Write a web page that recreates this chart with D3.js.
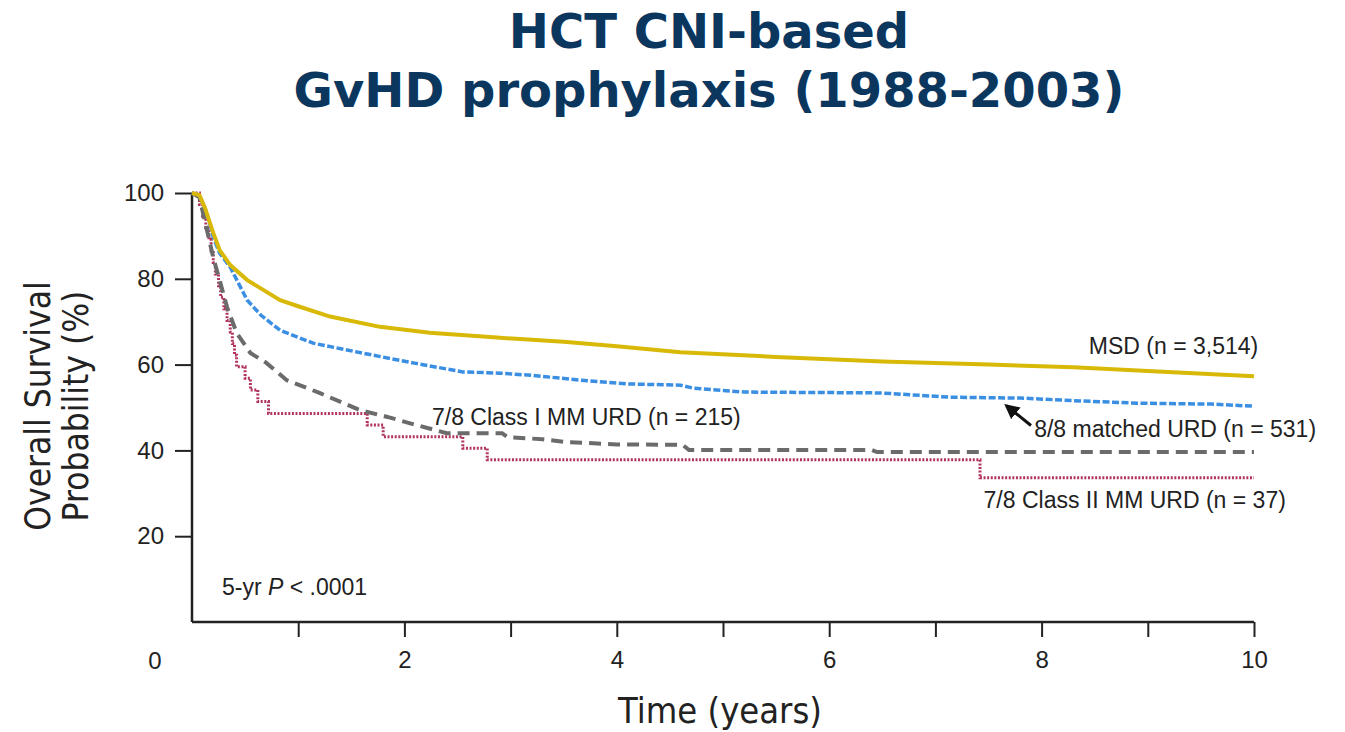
<!DOCTYPE html>
<html>
<head>
<meta charset="utf-8">
<script src="https://cdnjs.cloudflare.com/ajax/libs/d3/7.8.5/d3.min.js"></script>
<style>
  body { margin: 0; background: #fff; }
  svg { display: block; }
  .tick text { font-family: "Liberation Sans", Arial, sans-serif; font-size: 24px; fill: #222; }
  .note { font-family: "Liberation Sans", Arial, sans-serif; font-size: 23px; fill: #222; }
</style>
</head>
<body>
<script>
// KM overall survival, CNI-based GvHD prophylaxis
var msd = [[0,100],[0.07,99.5],[0.12,96.7],[0.2,90.7],[0.26,86.7],[0.36,83.2],[0.52,79.7],[0.83,75],
  [1.0,73.6],[1.3,71.2],[1.77,68.8],[2.24,67.4],[2.87,66.3],[3.5,65.3],[4,64.3],[4.6,62.9],
  [5.5,61.8],[6.5,60.7],[7.5,60.0],[8.3,59.4],[9,58.5],[10,57.3]];

var matched = [[0,100],[0.07,99.5],[0.14,95.3],[0.2,89.7],[0.26,86],[0.36,82.7],[0.52,75],[0.65,71.5],
  [0.83,68],[1.14,65],[1.6,62.7],[2.08,60.4],[2.55,58.3],[2.9,58],[3.2,57.5],[3.65,56.4],[4.1,55.5],
  [4.6,55.2],[4.72,54.5],[5.2,53.6],[6.48,53.4],[7.14,52.4],[7.8,52.2],[8.3,51.6],[8.9,51],[9.6,50.8],[10,50.3]];

var classI = [[0,100],[0.07,99],[0.14,91.4],[0.2,85],[0.26,79.7],[0.33,73.4],[0.42,67.4],[0.55,62.7],
  [0.7,60.4],[0.89,56.4],[1.2,53.4],[1.58,49.4],[1.84,47.8],[2.1,46],[2.4,44],[2.92,44],[2.97,43.1],
  [3.3,42.6],[3.5,42],[4.0,41.4],[4.62,41.3],[4.68,40.1],[6.4,40.1],[6.45,39.6],[10,39.6]];

var classII = [[0,100],[0.07,97.3],[0.1,94.6],[0.13,91.9],[0.16,89.2],[0.18,86.5],[0.2,83.8],[0.22,81.1],
  [0.25,78.4],[0.27,75.7],[0.3,73],[0.33,70.3],[0.36,67.6],[0.38,64.9],[0.4,62.2],[0.42,59.5],
  [0.5,56.8],[0.55,54.1],[0.62,51.4],[0.72,48.6],[1.65,45.9],[1.8,43.2],[2.55,40.5],[2.78,37.8],
  [7.42,33.6],[10,33.6]];

var yTicks = [20, 40, 60, 80, 100];
var xTicks = [1, 2, 3, 4, 5, 6, 7, 8, 9, 10];
var titleLines = ["HCT CNI-based", "GvHD prophylaxis (1988-2003)"];

var width = 1345, height = 732;
var svg = d3.select("body").append("svg")
    .attr("width", width)
    .attr("height", height);

var x = d3.scaleLinear().domain([0, 10]).range([192, 1254]);
var y = d3.scaleLinear().domain([0, 100]).range([622, 193]);

// title
svg.selectAll("text.title")
  .data(titleLines)
  .enter().append("text")
    .attr("class", "title")
    .attr("x", 709)
    .attr("y", function(d, i) { return 48 + i * 59; })
    .attr("text-anchor", "middle")
    .style("font-family", "'DejaVu Sans', Verdana, sans-serif")
    .style("font-weight", "bold")
    .style("font-size", "48px")
    .style("fill", "#0b375f")
    .text(function(d) { return d; });

// axes
var yAxis = d3.axisLeft(y).tickValues(yTicks).tickSize(17).tickPadding(11);
var gy = svg.append("g").attr("transform", "translate(192,0)").call(yAxis);

var xAxis = d3.axisBottom(x).tickValues(xTicks).tickSize(15).tickPadding(14)
  .tickFormat(function(d) { return d % 2 === 0 ? d : ""; });
var gx = svg.append("g").attr("transform", "translate(0,622)").call(xAxis);

[gx, gy].forEach(function(g) {
  g.select(".domain").attr("stroke", "#222").attr("stroke-width", 2.5);
  g.selectAll(".tick line").attr("stroke", "#222").attr("stroke-width", 2);
});
gy.select(".domain").attr("d", "M0," + y(100) + "V" + y(0));
gx.select(".domain").attr("d", "M" + x(0) + ",0H" + x(10));

svg.append("text")
  .attr("x", 155).attr("y", 669)
  .attr("text-anchor", "middle")
  .style("font-family", "'Liberation Sans', Arial, sans-serif")
  .style("font-size", "24px").style("fill", "#222")
  .text("0");

// axis titles
svg.append("text")
  .attr("x", 720).attr("y", 723)
  .attr("text-anchor", "middle")
  .style("font-family", "'Liberation Sans Narrow', 'DejaVu Sans Condensed', sans-serif")
  .style("font-size", "36px").style("fill", "#222")
  .text("Time (years)");

var ylab = svg.append("text")
  .attr("transform", "translate(0,406) rotate(-90)")
  .attr("text-anchor", "middle")
  .style("font-family", "'Liberation Sans Narrow', 'DejaVu Sans Condensed', sans-serif")
  .style("font-size", "35px").style("fill", "#222");
ylab.append("tspan").attr("x", 0).attr("y", 50).text("Overall Survival");
ylab.append("tspan").attr("x", 0).attr("y", 88).text("Probability (%)");

// curves
var line = d3.line().x(function(d) { return x(d[0]); }).y(function(d) { return y(d[1]); });
var stepLine = d3.line().curve(d3.curveStepAfter)
  .x(function(d) { return x(d[0]); }).y(function(d) { return y(d[1]); });

svg.append("path").datum(classII).attr("d", stepLine)
  .attr("fill", "none").attr("stroke", "#b0345c").attr("stroke-width", 3)
  .attr("stroke-dasharray", "2,1.6");
svg.append("path").datum(classI).attr("d", line)
  .attr("fill", "none").attr("stroke", "#6b6b6b").attr("stroke-width", 4)
  .attr("stroke-dasharray", "12,7");
svg.append("path").datum(matched).attr("d", line)
  .attr("fill", "none").attr("stroke", "#3a8fe3").attr("stroke-width", 3.5)
  .attr("stroke-dasharray", "7,2.5");
svg.append("path").datum(msd).attr("d", line)
  .attr("fill", "none").attr("stroke", "#d9b908").attr("stroke-width", 4);

// labels
var notes = [
  {t: 10.04, v: 62.5, anchor: "end", text: "MSD (n = 3,514)"},
  {t: 7.93, v: 43.2, anchor: "start", text: "8/8 matched URD (n = 531)"},
  {t: 2.26, v: 46.0, anchor: "start", text: "7/8 Class I MM URD (n = 215)"},
  {t: 10.3, v: 26.6, anchor: "end", text: "7/8 Class II MM URD (n = 37)"}
];
svg.selectAll("text.note")
  .data(notes)
  .enter().append("text")
    .attr("class", "note")
    .attr("x", function(d) { return x(d.t); })
    .attr("y", function(d) { return y(d.v); })
    .attr("text-anchor", function(d) { return d.anchor; })
    .text(function(d) { return d.text; });

var p = svg.append("text").attr("class", "note")
  .attr("x", 222).attr("y", 595);
p.append("tspan").text("5-yr ");
p.append("tspan").style("font-style", "italic").text("P");
p.append("tspan").text(" < .0001");

// arrow to the 8/8 curve
svg.append("defs").append("marker")
    .attr("id", "head")
    .attr("viewBox", "0 0 10 10")
    .attr("refX", 8).attr("refY", 5)
    .attr("markerWidth", 5).attr("markerHeight", 5)
    .attr("orient", "auto")
  .append("path").attr("d", "M0,0L10,5L0,10z").attr("fill", "#111");

var arrow = [[7.9, 45.8], [7.67, 50.4]];
svg.append("line")
  .attr("x1", x(arrow[0][0])).attr("y1", y(arrow[0][1]))
  .attr("x2", x(arrow[1][0])).attr("y2", y(arrow[1][1]))
  .attr("stroke", "#111").attr("stroke-width", 3)
  .attr("marker-end", "url(#head)");
</script>
</body>
</html>
